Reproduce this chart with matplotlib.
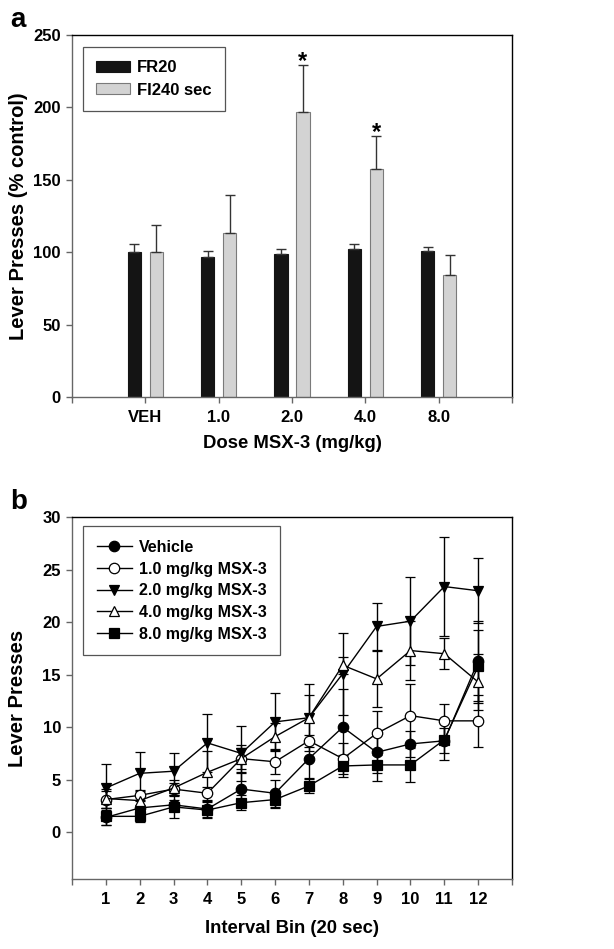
import numpy as np
import matplotlib
matplotlib.use("Agg")
import matplotlib.pyplot as plt

plt.rcParams['font.family'] = ['Liberation Sans', 'DejaVu Sans']
plt.rcParams['font.weight'] = 'bold'

# panel a: lever presses (% control)
doses = ["VEH", "1.0", "2.0", "4.0", "8.0"]
fr20 = [100, 97, 98.5, 102, 100.5]
fr20_err = [5.5, 4, 3.5, 4, 3.3]
fi240 = [100, 113.5, 197, 157.5, 84]
fi240_err = [19, 26, 32, 22.5, 14]
signif = [False, False, True, True, False]

# panel b: lever presses per 20 s bin
bins = list(range(1, 13))
series_names = ["Vehicle", "1.0 mg/kg MSX-3", "2.0 mg/kg MSX-3",
                "4.0 mg/kg MSX-3", "8.0 mg/kg MSX-3"]
vehicle = [1.4, 2.3, 2.6, 2.2, 4.1, 3.7, 7.0, 10.0, 7.6, 8.4, 8.7, 16.3]
vehicle_err = [0.7, 0.8, 0.5, 0.8, 1.5, 1.3, 1.8, 3.6, 2.0, 1.2, 1.2, 3.8]
msx1 = [3.1, 3.5, 4.1, 3.7, 7.0, 6.7, 8.7, 7.0, 9.4, 11.1, 10.6, 10.6]
msx1_err = [0.8, 0.5, 0.6, 0.6, 1.0, 1.2, 0.6, 1.5, 2.1, 3.0, 1.6, 2.5]
msx2 = [4.2, 5.6, 5.8, 8.5, 7.5, 10.5, 10.9, 15.1, 19.6, 20.1, 23.4, 23.0]
msx2_err = [2.3, 2.0, 1.7, 2.8, 2.6, 2.8, 3.2, 3.9, 2.2, 4.2, 4.7, 3.1]
msx4 = [3.2, 3.0, 4.2, 5.7, 7.0, 9.1, 10.9, 15.9, 14.6, 17.3, 17.0, 14.3]
msx4_err = [0.9, 0.9, 0.8, 2.0, 1.3, 1.3, 2.2, 0.8, 2.7, 2.8, 1.5, 2.7]
msx8 = [1.5, 1.5, 2.4, 2.1, 2.8, 3.1, 4.4, 6.3, 6.4, 6.4, 8.8, 15.8]
msx8_err = [0.8, 0.5, 1.1, 0.8, 0.7, 0.8, 0.7, 1.05, 1.5, 1.6, 1.9, 3.5]

fig = plt.figure(figsize=(6.14, 9.49), dpi=100)
W, H = 614, 949


def style_axes(ax):
    for s in ["left", "bottom"]:
        ax.spines[s].set_color("#666666")
    for s in ["top", "right"]:
        ax.spines[s].set_color("black")
    for s in ax.spines.values():
        s.set_linewidth(1.0)
    ax.tick_params(direction="out", length=4, width=1, color="#666666",
                   labelsize=12)
    ax.tick_params(axis="x", pad=5.5)
    ax.tick_params(axis="y", pad=4)
    for lab in ax.get_xticklabels() + ax.get_yticklabels():
        lab.set_fontweight("bold")


# ---- panel a ----
axa = fig.add_axes([72 / W, 1 - 397 / H, 440 / W, 362 / H])
x = np.arange(1, 6)
w = 0.18
axa.bar(x - 0.15, fr20, w, color="#141414", edgecolor="#141414", linewidth=0.8)
axa.bar(x + 0.15, fi240, w, color="#d3d3d3", edgecolor="#7a7a7a", linewidth=0.8)
axa.errorbar(x - 0.15, fr20, yerr=[np.zeros(5), fr20_err], fmt="none",
             ecolor="#333333", elinewidth=1, capsize=3.3, capthick=1)
axa.errorbar(x + 0.15, fi240, yerr=[np.zeros(5), fi240_err], fmt="none",
             ecolor="#333333", elinewidth=1, capsize=3.3, capthick=1)
for xi, v, e, s in zip(x, fi240, fi240_err, signif):
    if s:
        axa.text(xi + 0.15, v + e - 5, "*", ha="center", va="bottom",
                 fontsize=17, fontweight="bold")
axa.set_xlim(0, 6)
axa.set_ylim(0, 250)
axa.set_xticks(range(0, 7))
axa.set_xticklabels([""] + doses + [""])
axa.set_yticks(range(0, 251, 50))
style_axes(axa)
axa.set_xlabel("Dose MSX-3 (mg/kg)", fontsize=13.3, fontweight="bold",
               labelpad=7)
axa.set_ylabel("Lever Presses (% control)", fontsize=14.5, fontweight="bold",
               labelpad=4)
leg = axa.legend(["FR20", "FI240 sec"], loc="upper left",
                 bbox_to_anchor=(0.025, 0.967), borderaxespad=0,
                 fancybox=False, framealpha=1,
                 edgecolor="#555555", prop={"weight": "bold", "size": 12},
                 handlelength=2.0, handleheight=0.65, handletextpad=0.45,
                 borderpad=0.8, labelspacing=0.45)
leg.get_frame().set_linewidth(0.9)
fig.text(10 / W, 1 - 27 / H, "a", fontsize=20, fontweight="bold")

# ---- panel b ----
axb = fig.add_axes([72 / W, 1 - 879.3 / H, 440 / W, 362 / H])
data = [(vehicle, vehicle_err, "o", "black"),
        (msx1, msx1_err, "o", "white"),
        (msx2, msx2_err, "v", "black"),
        (msx4, msx4_err, "^", "white"),
        (msx8, msx8_err, "s", "black")]
for (vals, err, m, fc), name in zip(data, series_names):
    axb.errorbar(bins, vals, yerr=err, fmt="-", marker=m, color="black",
                 mfc=fc, mec="black", ms=7.5, mew=0.9, lw=1.0,
                 ecolor="black", elinewidth=1, capsize=3.8, capthick=1,
                 label=name)
axb.set_xlim(0, 13)
axb.set_ylim(-4.5, 30)
axb.set_xticks(range(0, 14))
axb.set_xticklabels([""] + [str(b) for b in bins] + [""])
axb.set_yticks(range(0, 31, 5))
style_axes(axb)
axb.set_xlabel("Interval Bin (20 sec)", fontsize=13.3, fontweight="bold",
               labelpad=9)
axb.set_ylabel("Lever Presses", fontsize=14.5, fontweight="bold", labelpad=11)
handles, labels = axb.get_legend_handles_labels()
handles = [h[0] for h in handles]
leg = axb.legend(handles, labels, loc="upper left",
                 bbox_to_anchor=(0.025, 0.975), borderaxespad=0,
                 fancybox=False, framealpha=1,
                 edgecolor="#555555", prop={"weight": "bold", "size": 11.5},
                 handlelength=2.2, handletextpad=0.45, borderpad=0.85,
                 labelspacing=0.42)
leg.get_frame().set_linewidth(0.9)
fig.text(10 / W, 1 - 509 / H, "b", fontsize=20, fontweight="bold")

fig.savefig("out.png", dpi=100)
